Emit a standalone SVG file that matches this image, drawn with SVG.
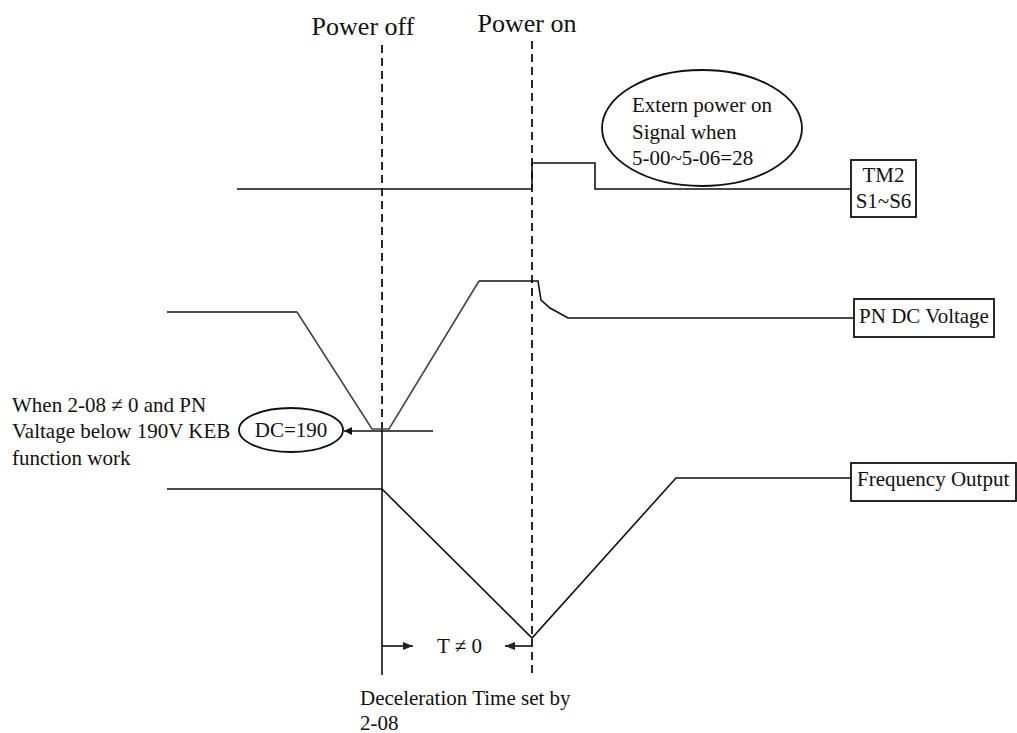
<svg xmlns="http://www.w3.org/2000/svg" width="1017" height="733" viewBox="0 0 1017 733">
<style>
text{font-family:"Liberation Serif","Times New Roman",serif;fill:#111;font-size:21px}
.big{font-size:26px}
.ln{fill:none;stroke:#111;stroke-width:1.6}
.gray{fill:none;stroke:#444;stroke-width:1.6}
.dash{fill:none;stroke:#111;stroke-width:1.8;stroke-dasharray:8 5}
.box{fill:#fff;stroke:#111;stroke-width:1.8}
.ell{fill:none;stroke:#111;stroke-width:1.8}
</style>
<defs>
<marker id="ah" viewBox="0 0 10 10" refX="10" refY="5" markerWidth="10" markerHeight="8" markerUnits="userSpaceOnUse" orient="auto">
<path d="M0,0 L10,5 L0,10 z" fill="#111"/>
</marker>
<marker id="ahb" viewBox="0 0 10 10" refX="10" refY="5" markerWidth="13" markerHeight="10" markerUnits="userSpaceOnUse" orient="auto">
<path d="M0,1 L10,5 L0,9 z" fill="#222"/>
</marker>
</defs>
<rect width="1017" height="733" fill="#fff"/>

<g id="connectors">
<line class="dash" x1="382" y1="45" x2="382" y2="430"/>
<line class="ln" x1="382" y1="430" x2="382" y2="675"/>
<line class="dash" x1="532" y1="41" x2="532" y2="675"/>
<polyline class="ln" points="237,189 532,189 532,163 595,163 595,189 851,189"/>
<polyline class="ln" points="167,312 297,312"/>
<polyline class="gray" points="297,312 372,429 389,429 479,281"/>
<polyline class="ln" points="479,281 538,281 541,300 550,308 568,318 854,318"/>
<line class="ln" x1="433" y1="431" x2="344" y2="431" marker-end="url(#ah)"/>
<polyline class="ln" points="167,489 382,489 532,638 676,478 851,478"/>
<line class="ln" x1="382" y1="646" x2="413" y2="646" marker-end="url(#ahb)"/>
<line class="ln" x1="532" y1="646" x2="505" y2="646" marker-end="url(#ahb)"/>
</g>

<g id="power-off"><text class="big" x="363" y="35" text-anchor="middle">Power off</text></g>
<g id="power-on"><text class="big" x="527" y="32" text-anchor="middle">Power on</text></g>

<g id="extern-note">
<ellipse class="ell" cx="702" cy="128" rx="100" ry="58"/>
<text x="632" y="112">Extern power on</text>
<text x="632" y="139">Signal when</text>
<text x="632" y="165">5-00~5-06=28</text>
</g>

<g id="tm2">
<rect class="box" x="851" y="160" width="65" height="57"/>
<text x="883.5" y="182" text-anchor="middle">TM2</text>
<text x="883.5" y="208" text-anchor="middle">S1~S6</text>
</g>

<g id="pn-dc">
<rect class="box" x="854" y="299" width="140" height="38"/>
<text x="924" y="323" text-anchor="middle">PN DC Voltage</text>
</g>

<g id="dc190">
<ellipse class="ell" cx="291" cy="430" rx="52" ry="22"/>
<text x="291" y="437" text-anchor="middle">DC=190</text>
</g>

<g id="keb-note">
<text x="12" y="412">When 2-08 ≠ 0 and PN</text>
<text x="12" y="438">Valtage below 190V KEB</text>
<text x="12" y="465">function work</text>
</g>

<g id="freq">
<rect class="box" x="851" y="463" width="165" height="38"/>
<text x="857" y="486">Frequency Output</text>
</g>

<g id="t-label"><text x="437" y="653">T ≠ 0</text></g>

<g id="decel-note">
<text x="360" y="705">Deceleration Time set by</text>
<text x="360" y="730">2-08</text>
</g>
</svg>
